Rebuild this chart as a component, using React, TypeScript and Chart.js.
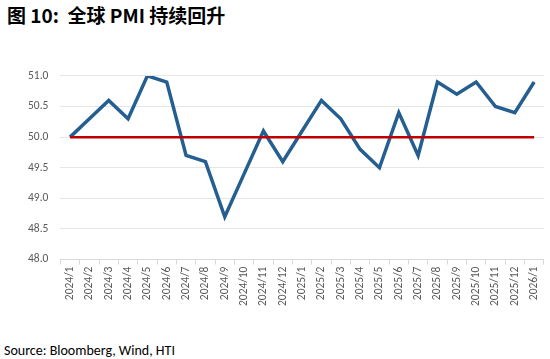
import React, { useEffect, useRef } from "react";
import { Chart, registerables } from "chart.js";

Chart.register(...registerables);

const categories = [
  "2024/1", "2024/2", "2024/3", "2024/4", "2024/5", "2024/6", "2024/7", "2024/8", "2024/9", "2024/10", "2024/11", "2024/12",
  "2025/1", "2025/2", "2025/3", "2025/4", "2025/5", "2025/6", "2025/7", "2025/8", "2025/9", "2025/10", "2025/11", "2025/12",
  "2026/1",
];
const pmiValues = [
  50.0, 50.3, 50.6, 50.3, 51.0, 50.9, 49.7, 49.6, 48.7, 49.4, 50.1, 49.6,
  50.1, 50.6, 50.3, 49.8, 49.5, 50.4, 49.7, 50.9, 50.7, 50.9, 50.5, 50.4,
  50.9,
];
const thresholdValues = categories.map(() => 50);
const yMin = 48;
const yMax = 51;
const yStep = 0.5;

const FONT = "Calibri, Carlito, 'Liberation Sans', sans-serif";

export default function App() {
  const ref = useRef<HTMLCanvasElement | null>(null);
  useEffect(() => {
    if (!ref.current) return;
    const chart = new Chart(ref.current, {
      type: "line",
      data: {
        labels: categories,
        datasets: [
          {
            label: "50",
            data: thresholdValues,
            borderColor: "#C00000",
            borderWidth: 2.5,
            pointRadius: 0,
            order: 0,
          },
          {
            label: "PMI",
            data: pmiValues,
            borderColor: "#255E91",
            borderWidth: 3.5,
            pointRadius: 0,
            tension: 0,
            order: 1,
          },
        ],
      },
      options: {
        animation: false,
        responsive: false,
        maintainAspectRatio: false,
        layout: { padding: { left: 16, right: 3, top: 8, bottom: 0 } },
        plugins: { legend: { display: false }, tooltip: { enabled: false }, title: { display: false } },
        scales: {
          x: {
            offset: true,
            grid: { display: true, drawOnChartArea: false, drawTicks: true, tickLength: 5, color: "#d9d9d9", offset: true },
            border: { display: true, color: "#d9d9d9" },
            ticks: {
              autoSkip: false,
              maxRotation: 90,
              minRotation: 90,
              color: "#595959",
              font: { family: FONT, size: 11.5 },
              padding: 2,
            },
          },
          y: {
            min: yMin,
            max: yMax,
            ticks: {
              stepSize: yStep,
              color: "#595959",
              font: { family: FONT, size: 11.5 },
              padding: 12,
              callback: (v: any) => Number(v).toFixed(1),
            },
            grid: { color: "#e6e6e6", lineWidth: 1, drawTicks: false },
            border: { display: false },
          },
        },
      },
    });
    return () => chart.destroy();
  }, []);

  return (
    <div style={{ position: "fixed", left: 0, top: 0, width: 550, height: 359, background: "#fff", overflow: "hidden" }}>
      <div
        style={{
          position: "absolute",
          left: 7,
          top: 1,
          fontFamily: "'Noto Sans CJK SC', 'Noto Sans', sans-serif",
          fontWeight: 700,
          fontSize: 19,
          color: "#000",
          whiteSpace: "pre",
        }}
      >
        {"图 10:  全球 PMI 持续回升"}
      </div>
      <canvas ref={ref} width={550} height={251} style={{ position: "absolute", left: 0, top: 57 }} />
      <div
        style={{
          position: "absolute",
          left: 4,
          top: 342,
          fontFamily: FONT,
          fontSize: 14,
          color: "#000",
        }}
      >
        Source: Bloomberg, Wind, HTI
      </div>
    </div>
  );
}
